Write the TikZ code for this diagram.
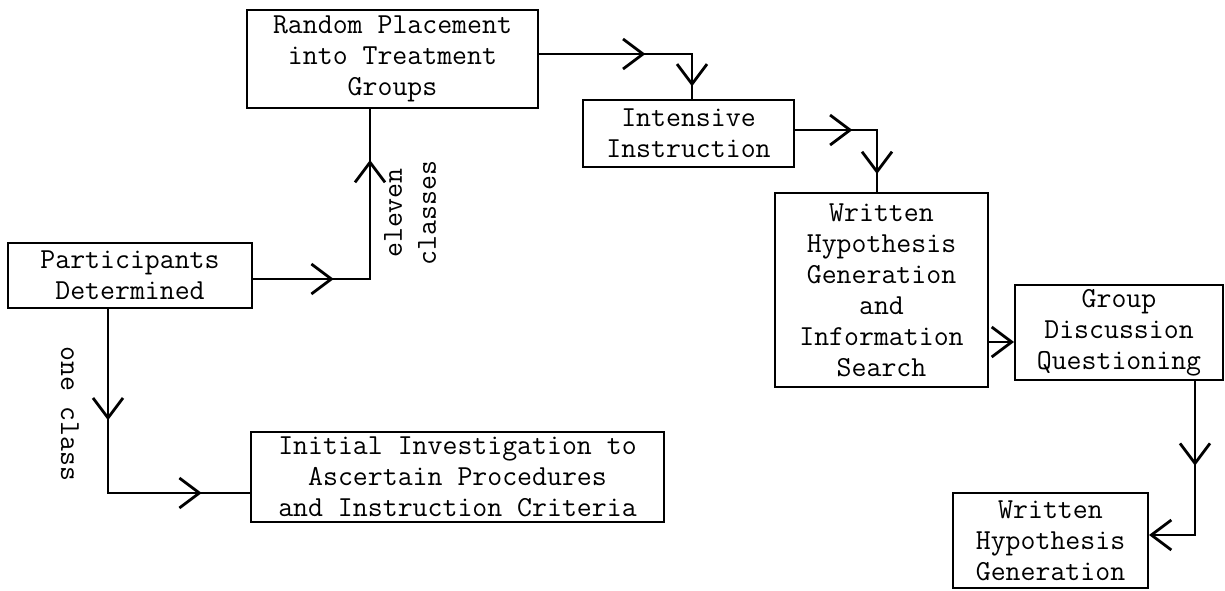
\documentclass[tikz,border=0pt]{standalone}
\usetikzlibrary{arrows.meta,decorations.markings}
\begin{document}
\begin{tikzpicture}[x=0.5pt,y=-0.5pt,
  box/.style={draw,line width=1pt,inner sep=0pt,align=center,
    font=\fontsize{14.5}{15.5}\selectfont\ttfamily},
  lbl/.style={inner sep=0pt,align=center,font=\fontsize{14.5}{17}\selectfont\ttfamily},
  conn/.style={line width=1.4pt,line cap=rect},
  marr/.style={postaction={decorate},decoration={markings,
    mark=at position #1 with {\arrow{Straight Barb[length=10pt,width=15pt,line width=1.4pt]}}}},
  endarr/.style={-{Straight Barb[length=10pt,width=15pt,line width=1.4pt]}}]
\useasboundingbox (0,0) rectangle (1225,590);

\node[box,minimum width=122pt,minimum height=32.5pt] (P) at (130,275.5) {Participants\\Determined};
\node[box,minimum width=145.5pt,minimum height=49pt] (R) at (392.5,59) {Random Placement\\into Treatment\\Groups};
\node[box,minimum width=206.5pt,minimum height=45pt] (I0) at (457.5,477) {Initial Investigation to\\Ascertain Procedures\\and Instruction Criteria};
\node[box,minimum width=105.5pt,minimum height=33.5pt] (II) at (688.5,133.5) {Intensive\\Instruction};
\node[box,minimum width=106.5pt,minimum height=97pt] (W) at (881.5,290) {Written\\Hypothesis\\Generation\\and\\Information\\Search};
\node[box,minimum width=104pt,minimum height=47.5pt] (G) at (1119,332.5) {Group\\Discussion\\Questioning};
\node[box,minimum width=97.5pt,minimum height=47.5pt] (B) at (1050.5,540.5) {Written\\Hypothesis\\Generation};

\node[lbl,rotate=90] (L1) at (410,213) {eleven\\classes};
\node[lbl,rotate=-90] (L2) at (70,414) {one class};

\coordinate (c1) at (370,279);
\coordinate (c2) at (108,493);
\coordinate (c3) at (692,54);
\coordinate (c4) at (877,130);
\coordinate (c5) at (1000,342);
\coordinate (c6) at (1195,535);

\draw[conn,marr=0.69] (P.east |- c1) -- (c1);
\draw[conn,marr=0.70] (c1) -- (c1 |- R.south);
\draw[conn,marr=0.605] (P.south -| c2) -- (c2);
\draw[conn,marr=0.66] (c2) -- (c2 -| I0.west);
\draw[conn,marr=0.695] (R.east |- c3) -- (c3);
\draw[conn,marr=0.72] (c3) -- (c3 |- II.north);
\draw[conn,marr=0.70] (II.east |- c4) -- (c4);
\draw[conn,marr=0.71] (c4) -- (c4 |- W.north);
\draw[conn,endarr] (W.east |- c5) -- (G.west |- c5);
\draw[conn,marr=0.55] (G.south -| c6) -- (c6);
\draw[conn,endarr] (c6) -- (B.east |- c6);
\end{tikzpicture}
\end{document}
